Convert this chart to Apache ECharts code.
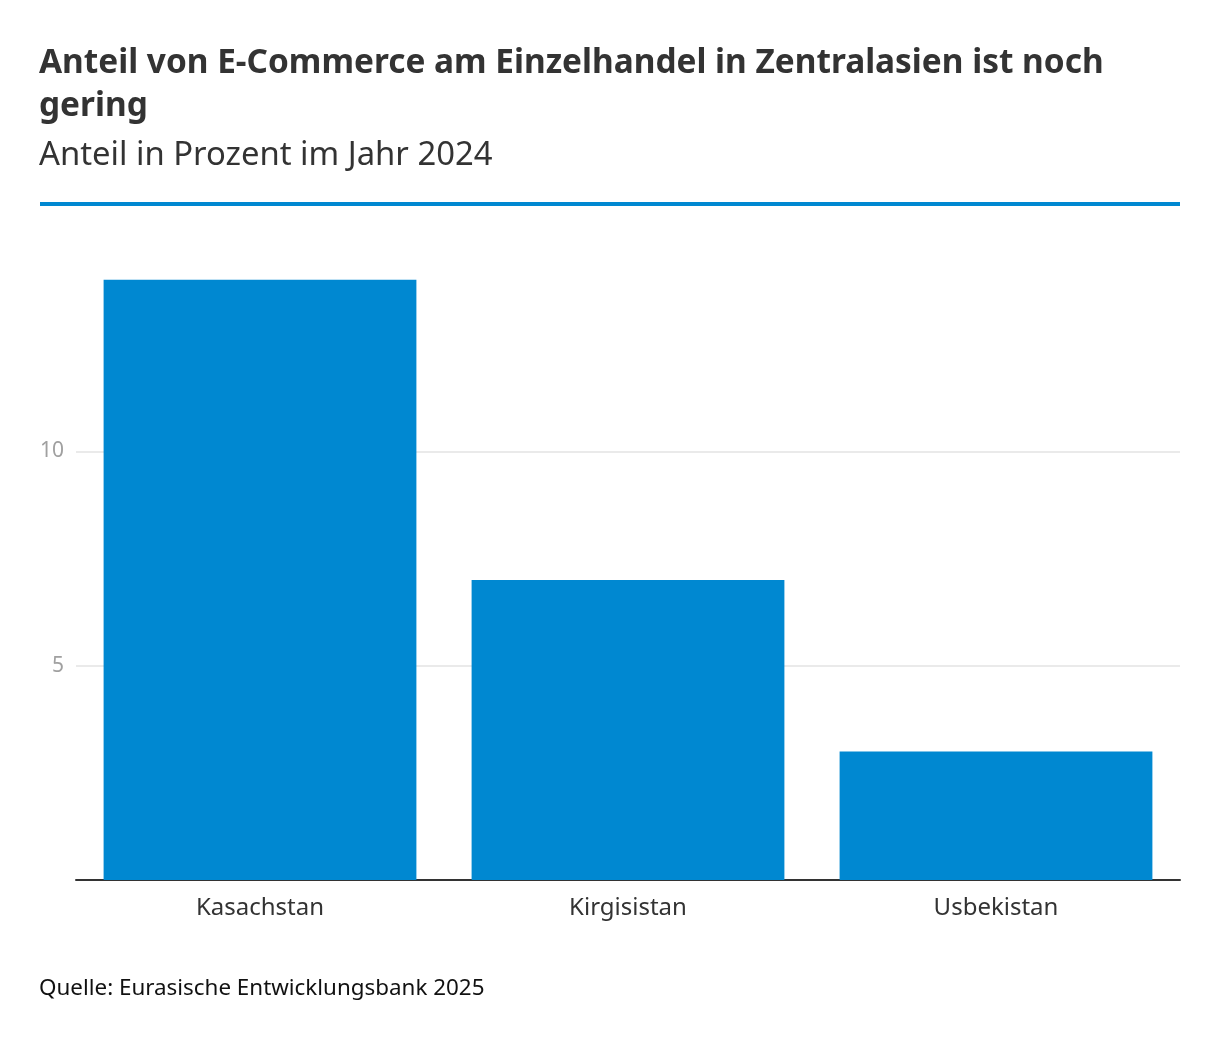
<!DOCTYPE html>
<html>
<head>
<meta charset="utf-8">
<script src="https://cdn.jsdelivr.net/npm/echarts@6/dist/echarts.min.js"></script>
<style>
html,body{margin:0;padding:0;background:#fff;}
#chart{width:1220px;height:1044px;}
</style>
</head>
<body>
<div id="chart"></div>
<script>
const categories = ["Kasachstan", "Kirgisistan", "Usbekistan"];
const shareValues = [14, 7, 3];
const yTicks = [0, 5, 10, 15];

const FONT = "'Noto Sans', sans-serif";
const chart = echarts.init(document.getElementById('chart'), null, {renderer: 'canvas'});
chart.setOption({
  animation: false,
  backgroundColor: '#ffffff',
  title: [
    {
      text: 'Anteil von E-Commerce am Einzelhandel in Zentralasien ist noch\ngering',
      left: 39, top: 42, padding: 0,
      textStyle: {fontFamily: FONT, fontSize: 33.4, fontWeight: 'bold', color: '#333333', lineHeight: 43}
    },
    {
      text: 'Anteil in Prozent im Jahr 2024',
      left: 39, top: 138, padding: 0,
      textStyle: {fontFamily: FONT, fontSize: 32.8, fontWeight: 'normal', color: '#333333', lineHeight: 36}
    },
    {
      text: 'Quelle: Eurasische Entwicklungsbank 2025',
      left: 39, top: 976, padding: 0,
      textStyle: {fontFamily: FONT, fontSize: 22.4, fontWeight: 'normal', color: '#111111', lineHeight: 26}
    }
  ],
  graphic: [
    {type: 'rect', left: 40, top: 202, shape: {width: 1140, height: 4}, style: {fill: '#0088d1'}}
  ],
  grid: {left: 76, right: 40, top: 237, bottom: 164, containLabel: false},
  xAxis: {
    type: 'category',
    data: categories,
    axisLine: {show: true, lineStyle: {color: '#333333', width: 2}},
    axisTick: {show: false},
    axisLabel: {fontFamily: FONT, fontSize: 24, color: '#333333', margin: 16}
  },
  yAxis: {
    type: 'value',
    min: yTicks[0], max: yTicks[yTicks.length - 1], interval: 5,
    axisLine: {show: false},
    axisTick: {show: false},
    splitLine: {show: true, showMinLine: false, showMaxLine: false, lineStyle: {color: '#e3e3e3', width: 1.5}},
    axisLabel: {
      fontFamily: FONT, fontSize: 21, color: '#a0a0a0', margin: 12,
      showMinLabel: false, showMaxLabel: false,
      formatter: v => (v === 0 || v === 15) ? '' : String(v)
    }
  },
  series: [{
    type: 'bar',
    data: shareValues,
    barCategoryGap: '15%',
    itemStyle: {color: '#0088d1'}
  }]
});
</script>
</body>
</html>
